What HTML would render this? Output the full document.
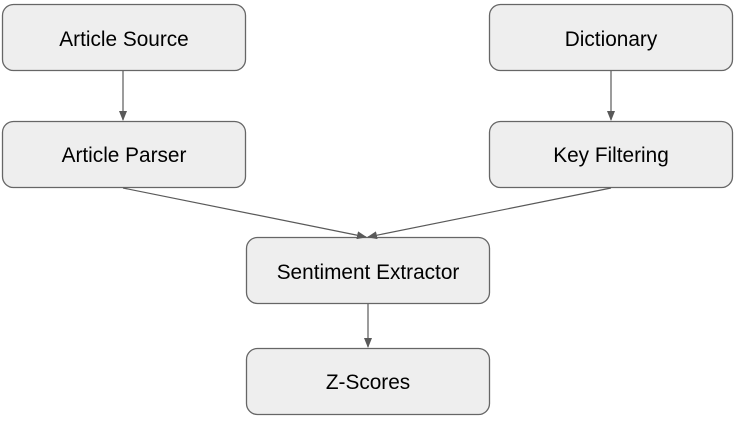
<!DOCTYPE html>
<html><head><style>
html,body{margin:0;padding:0;background:#fff;}
svg{display:block;}
text{font-family:"Liberation Sans",Arial,sans-serif;font-size:20.8px;fill:#000;}
</style></head><body>
<svg width="739" height="423" viewBox="0 0 739 423" xmlns="http://www.w3.org/2000/svg">
<defs>
<marker id="a" markerWidth="10" markerHeight="8" refX="9" refY="4" orient="auto" markerUnits="userSpaceOnUse">
<path d="M0,0 L10,4 L0,8 z" fill="#595959"/>
</marker>
</defs>
<g fill="#eeeeee" stroke="#666" stroke-width="1.3">
<rect x="2.5" y="4.5" width="243" height="66" rx="11"/>
<rect x="489.5" y="4.5" width="243" height="66" rx="11"/>
<rect x="2.5" y="121.5" width="243" height="66" rx="11"/>
<rect x="489.5" y="121.5" width="243" height="66" rx="11"/>
<rect x="246.5" y="237.5" width="243" height="66" rx="11"/>
<rect x="246.5" y="348.5" width="243" height="66" rx="11"/>
</g>
<g stroke="#595959" stroke-width="1.2" fill="none" marker-end="url(#a)">
<line x1="123" y1="71" x2="123" y2="120"/>
<line x1="611" y1="71" x2="611" y2="120"/>
<line x1="123" y1="188" x2="366" y2="237"/>
<line x1="611" y1="188" x2="368" y2="237"/>
<line x1="368" y1="304" x2="368" y2="347"/>
</g>
<g text-anchor="middle">
<text x="124" y="46">Article Source</text>
<text x="611" y="46">Dictionary</text>
<text x="124" y="162">Article Parser</text>
<text x="611" y="162">Key Filtering</text>
<text x="368" y="279">Sentiment Extractor</text>
<text x="368" y="389">Z-Scores</text>
</g>
</svg>
</body></html>
